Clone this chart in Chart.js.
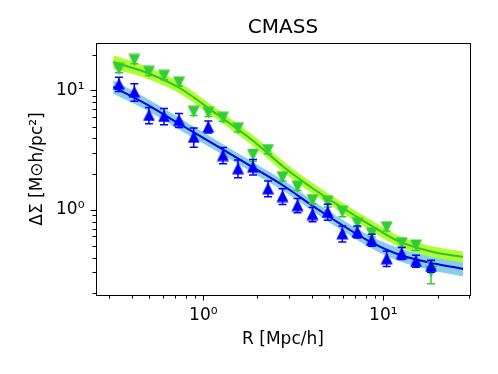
<!DOCTYPE html>
<html><head><meta charset="utf-8">
<script src="https://cdn.jsdelivr.net/npm/chart.js@4.4.0/dist/chart.umd.min.js"></script>
<style>html,body{margin:0;padding:0;background:#fff}canvas{display:block}</style>
</head><body>
<canvas id="c" width="498" height="374"></canvas>
<script>
// ---- data ----
const R = [0.340,0.414,0.499,0.605,0.733,0.885,1.066,1.286,1.559,1.888,2.288,2.754,3.337,4.042,4.911,5.918,7.172,8.623,10.44,12.65,15.19,18.41];
const dsBlue = [11.4,9.8,6.26,6.14,5.68,4.11,4.99,2.89,2.24,2.31,1.52,1.31,1.10,0.925,0.968,0.638,0.658,0.561,0.394,0.434,0.374,0.340];
const errBlue = [1.55,1.65,0.97,0.95,0.77,0.76,0.57,0.45,0.38,0.34,0.23,0.20,0.15,0.126,0.149,0.098,0.076,0.065,0.057,0.050,0.043,0.039];
const dsGreen = [15.2,18.1,14.4,13.3,11.7,6.67,6.54,5.94,4.84,2.89,3.18,1.88,1.57,1.21,1.17,0.968,0.774,0.638,0.716,0.526,0.504,0.304];
const errGreen = [1.05,1.25,0.99,0.92,0.81,0.46,0.45,0.41,0.33,0.33,0.22,0.13,0.11,0.084,0.108,0.089,0.053,0.044,0.049,0.036,0.046,0.063];
const modelR = [0.316,0.474,0.723,1.208,1.866,2.844,4.178,8.128,12.39,18.88,27.73];
const modelGreen = [17.38,14.35,10.74,6.25,3.864,2.249,1.472,0.778,0.540,0.445,0.404];
const bandGreenLo = [15.27,12.79,9.68,5.64,3.484,2.028,1.327,0.702,0.487,0.401,0.363];
const bandGreenHi = [19.78,16.10,11.91,6.93,4.285,2.494,1.632,0.863,0.599,0.494,0.449];
const modelBlue = [10.74,7.83,5.36,3.40,2.30,1.567,1.05,0.560,0.420,0.358,0.321];
const bandBlueLo = [9.44,6.98,4.78,3.07,2.07,1.413,0.947,0.499,0.370,0.312,0.278];
const bandBlueHi = [12.22,8.79,6.01,3.77,2.55,1.738,1.164,0.628,0.477,0.411,0.371];
const xTickVals = [0.3,0.4,0.5,0.6,0.7,0.8,0.9,1,2,3,4,5,6,7,8,9,10,20,30];
const yTickVals = [0.2,0.3,0.4,0.5,0.6,0.7,0.8,0.9,1,2,3,4,5,6,7,8,9,10,20];
const majorTicks = [1,10];
const majorLabels = {1:'10\u2070', 10:'10\u00b9'};
const titleText = 'CMASS';
const xLabel = 'R [Mpc/h]';
const yLabel = '\u0394\u03a3 [M\u2299h/pc\u00b2]';

// ---- styles ----
const FONT = 'DejaVu Sans';
const BLUE = '#0000ff';
const GREEN = '#32cd32';

function marker(color, up) {
  const c = document.createElement('canvas');
  c.width = 13; c.height = 13;
  const g = c.getContext('2d');
  g.fillStyle = color;
  g.beginPath();
  if (up) { g.moveTo(6.5, 0.5); g.lineTo(12.5, 12.5); g.lineTo(0.5, 12.5); }
  else { g.moveTo(6.5, 12.5); g.lineTo(12.5, 0.5); g.lineTo(0.5, 0.5); }
  g.closePath(); g.fill();
  return c;
}
const pts = (xs, ys) => xs.map((x, i) => ({x: x, y: ys[i]}));

const errorBars = {
  id: 'errorBars',
  beforeDatasetDraw(chart, args) {
    const ds = chart.data.datasets[args.index];
    if (!ds.errs) return;
    const {ctx} = chart; const xs = chart.scales.x, ys = chart.scales.y;
    ctx.save();
    ctx.strokeStyle = ds.errColor; ctx.lineWidth = 1.5;
    ds.data.forEach((p, i) => {
      const px = xs.getPixelForValue(p.x);
      const y1 = ys.getPixelForValue(p.y - ds.errs[i]);
      const y2 = ys.getPixelForValue(p.y + ds.errs[i]);
      ctx.beginPath();
      ctx.moveTo(px, y1); ctx.lineTo(px, y2);
      ctx.moveTo(px - 4, y1); ctx.lineTo(px + 4, y1);
      ctx.moveTo(px - 4, y2); ctx.lineTo(px + 4, y2);
      ctx.stroke();
    });
    ctx.restore();
  }
};
const minorTicks = {
  id: 'minorTicks',
  afterDraw(chart) {
    const {ctx, chartArea: a} = chart;
    ctx.save(); ctx.strokeStyle = '#000'; ctx.lineWidth = 1;
    ctx.beginPath();
    xTickVals.filter(v => !majorTicks.includes(v)).forEach(v => {
      const px = Math.round(chart.scales.x.getPixelForValue(v)) + 0.5;
      ctx.moveTo(px, a.bottom); ctx.lineTo(px, a.bottom + 3.5);
    });
    yTickVals.filter(v => !majorTicks.includes(v)).forEach(v => {
      const py = Math.round(chart.scales.y.getPixelForValue(v)) + 0.5;
      ctx.moveTo(a.left, py); ctx.lineTo(a.left - 3.5, py);
    });
    ctx.stroke(); ctx.restore();
  }
};

const majorColor = c => (c.tick && majorTicks.includes(c.tick.value)) ? '#000' : 'rgba(0,0,0,0)';
const curve = {pointRadius: 0, cubicInterpolationMode: 'monotone'};

new Chart(document.getElementById('c'), {
  type: 'line',
  data: {
    datasets: [
      {data: pts(R, dsBlue), showLine: false, pointStyle: marker(BLUE, true), pointRadius: 5, order: 0, errs: errBlue, errColor: BLUE},
      {data: pts(R, dsGreen), showLine: false, pointStyle: marker(GREEN, false), pointRadius: 5, order: 1, errs: errGreen, errColor: GREEN},
      Object.assign({data: pts(modelR, modelBlue), borderColor: '#0000e6', borderWidth: 2, fill: false, order: 2}, curve),
      Object.assign({data: pts(modelR, modelGreen), borderColor: '#38bd38', borderWidth: 2, fill: false, order: 3}, curve),
      Object.assign({data: pts(modelR, bandBlueHi), borderWidth: 0, borderColor: 'rgba(0,0,0,0)', fill: '+1', backgroundColor: '#87ceeb', order: 5}, curve),
      Object.assign({data: pts(modelR, bandBlueLo), borderWidth: 0, borderColor: 'rgba(0,0,0,0)', fill: false, order: 5}, curve),
      Object.assign({data: pts(modelR, bandGreenHi), borderWidth: 0, borderColor: 'rgba(0,0,0,0)', fill: '+1', backgroundColor: '#adff2f', order: 4}, curve),
      Object.assign({data: pts(modelR, bandGreenLo), borderWidth: 0, borderColor: 'rgba(0,0,0,0)', fill: false, order: 4}, curve)
    ]
  },
  options: {
    responsive: false, animation: false, devicePixelRatio: 1,
    layout: {padding: 0},
    plugins: {legend: {display: false}, tooltip: {enabled: false}, title: {display: false}},
    scales: {
      x: {
        type: 'logarithmic', position: 'bottom', min: 0.2535, max: 30.3,
        afterBuildTicks: s => { s.ticks = xTickVals.map(v => ({value: v, major: majorTicks.includes(v)})); },
        afterFit: s => { s.height = 79; },
        ticks: {autoSkip: false, maxRotation: 0, padding: 5, color: '#000', font: {family: FONT, size: 17},
          callback: v => majorLabels[v] || ''},
        grid: {drawOnChartArea: false, tickLength: 5.5, tickWidth: 1, tickColor: majorColor},
        border: {display: true, color: '#000', width: 1},
        title: {display: true, text: xLabel, color: '#000', font: {family: FONT, size: 17}, padding: {top: 0, bottom: 23.8}}
      },
      y: {
        type: 'logarithmic', position: 'left', min: 0.194, max: 25.1,
        afterBuildTicks: s => { s.ticks = yTickVals.map(v => ({value: v, major: majorTicks.includes(v)})); },
        afterFit: s => { s.width = 96; },
        ticks: {autoSkip: false, padding: 6, color: '#000', font: {family: FONT, size: 17},
          callback: v => majorLabels[v] || ''},
        grid: {drawOnChartArea: false, tickLength: 5.5, tickWidth: 1, tickColor: majorColor},
        border: {display: true, color: '#000', width: 1},
        title: {display: true, text: yLabel, color: '#000', font: {family: FONT, size: 17}, padding: {top: 27.5, bottom: 0}}
      },
      x2: {
        type: 'linear', position: 'top', min: 0, max: 1,
        afterFit: s => { s.height = 43; },
        ticks: {display: false}, grid: {display: false, drawTicks: false},
        border: {display: true, color: '#000', width: 1},
        title: {display: true, text: titleText, color: '#000', font: {family: FONT, size: 20}, padding: {top: 15.5, bottom: 0}}
      },
      y2: {
        type: 'linear', position: 'right', min: 0, max: 1,
        afterFit: s => { s.width = 28; },
        ticks: {display: false}, grid: {display: false, drawTicks: false},
        border: {display: true, color: '#000', width: 1}
      }
    }
  },
  plugins: [errorBars, minorTicks]
});
</script>
</body></html>
